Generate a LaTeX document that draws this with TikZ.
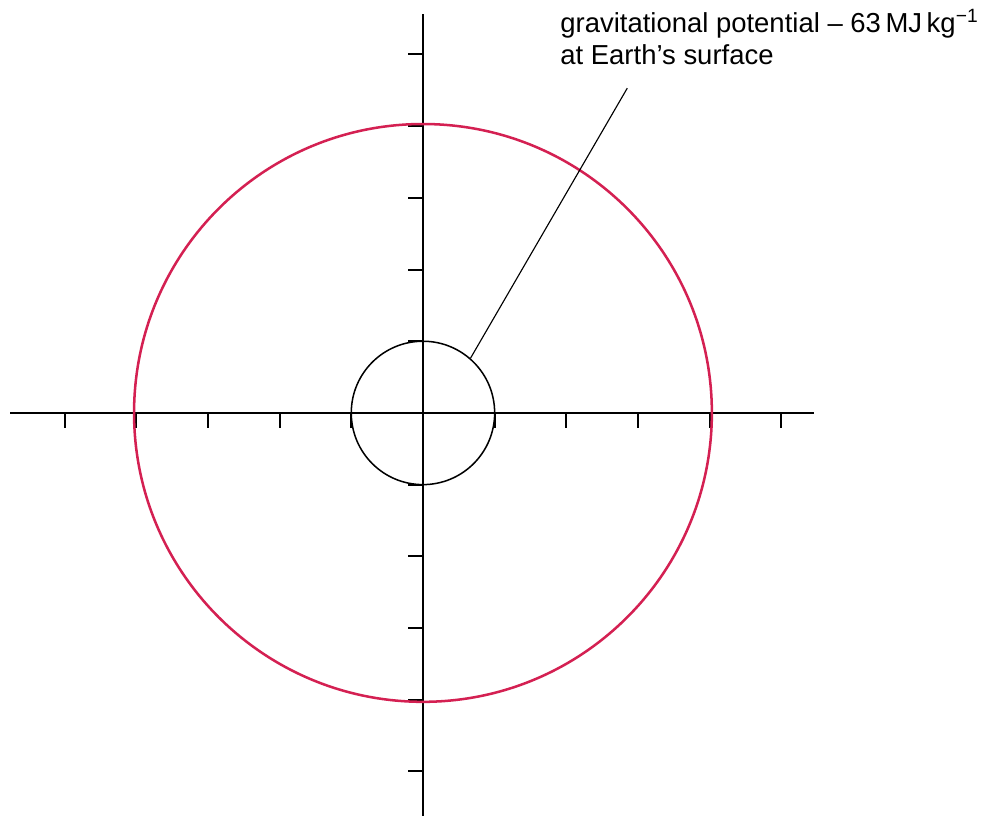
\documentclass[tikz,border=0pt]{standalone}
\usepackage{fontspec}
\newfontfamily\labelfont{Liberation Sans}
\usetikzlibrary{positioning}
\definecolor{penred}{RGB}{212,32,82}
\tikzset{
  axis/.style={line width=0.8pt},
  tick/.style={line width=0.8pt},
  earthline/.style={line width=0.6pt},
  orbit/.style={line width=1pt,penred},
  leader/.style={line width=0.45pt},
  lbl/.style={font=\labelfont\fontsize{10.9}{12.7}\selectfont,align=left,inner sep=0pt},
}
\begin{document}
\begin{tikzpicture}[x=1cm,y=1cm]
    \useasboundingbox (-5.9,-5.62) rectangle (7.84,5.76);
    % ---------- axes with unit ticks ----------
    \draw[axis] (-5.76,0) -- (5.46,0);
    \draw[axis] (0,-5.62) -- (0,5.56);
    \foreach \k in {-5,-4,-3,-2,-1,1,2,3,4,5} {
      \draw[tick] (\k,0) -- (\k,-0.21);
      \draw[tick] (0,\k) -- (-0.21,\k);
    }
    % ---------- Earth and the equipotential ----------
    \node[circle,draw,earthline,minimum size=2cm,inner sep=0pt] (earth) at (0,0) {};
    \draw[orbit] (0,0) circle (4.03);
    % ---------- label (base = last line) ----------
    \node[lbl,anchor=base west] (gpot) at (1.91,4.86)
      {gravitational potential – 63\,MJ\,kg\textsuperscript{−1}\\at Earth’s surface};
    \coordinate (lbltip) at (2.85,4.53);
    \draw[leader] (earth.49.5) -- (lbltip);
\end{tikzpicture}
\end{document}
